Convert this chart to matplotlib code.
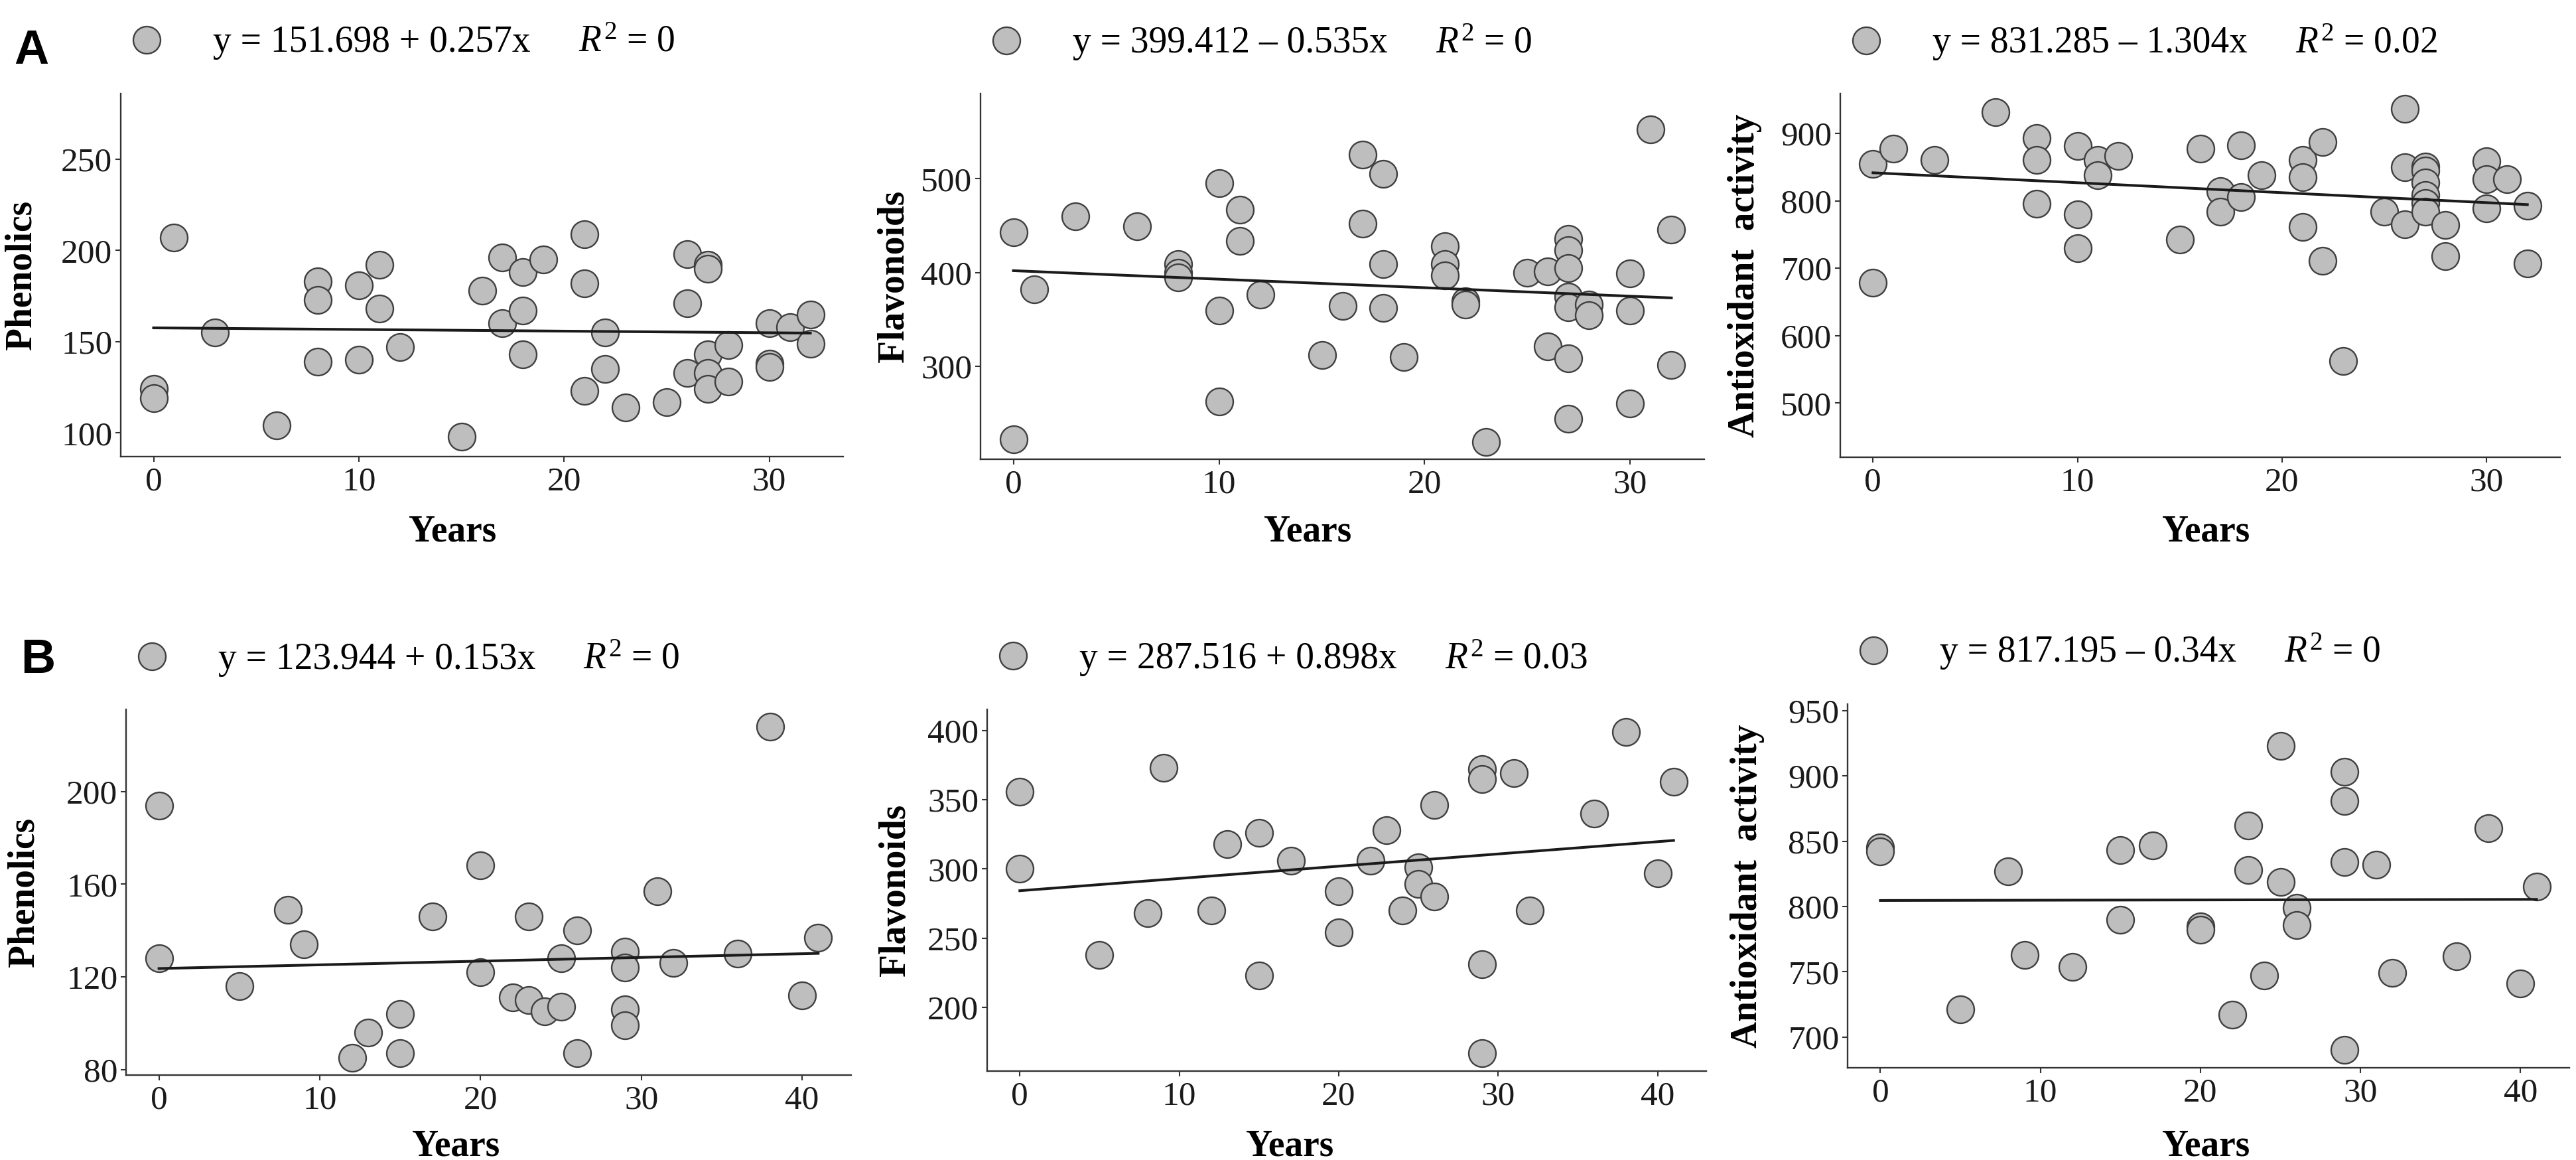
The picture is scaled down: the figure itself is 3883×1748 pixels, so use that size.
import numpy as np
import matplotlib
matplotlib.use("Agg")
import matplotlib.pyplot as plt
from matplotlib.lines import Line2D

W, H = 3883, 1748
DPI = 100

plt.rcParams['font.family'] = ['Liberation Serif', 'DejaVu Serif']
plt.rcParams['mathtext.fontset'] = 'custom'
plt.rcParams['mathtext.rm'] = 'Liberation Serif'
plt.rcParams['mathtext.it'] = 'Liberation Serif:italic'

# ---- data ----
# A: phenolics
years_a_phen = [0, 0, 1, 3, 6, 8, 8, 8, 10, 10, 11, 11, 12, 15, 16, 17, 17, 18, 18, 18,
                19, 21, 21, 21, 22, 22, 23, 25, 26, 26, 26, 27, 27, 27, 27, 27, 28, 28,
                30, 30, 30, 31, 32, 32]
phen_a = [124, 119, 207, 155, 104, 183, 173, 139, 181, 140, 192, 168, 147, 98, 178, 196, 160,
          188, 167, 143, 195, 209, 182, 123, 155, 135, 114, 117, 198, 171, 133, 192, 190,
          143, 133, 124, 148, 128, 160, 138, 136, 158, 165, 149]

# A: flavonoids
years_a_flav = [0, 0, 1, 3, 6, 8, 8, 8, 10, 10, 10, 11, 11, 12, 15, 16, 17, 17, 18, 18, 18,
                19, 21, 21, 21, 22, 22, 23, 25, 26, 26, 27, 27, 27, 27, 27, 27, 27, 28, 28,
                30, 30, 30, 31, 32, 32]
flav_a = [443, 222, 382, 460, 449, 409, 400, 395, 495, 359, 262, 467, 434, 376, 312, 364,
          526, 452, 505, 409, 362, 310, 428, 409, 397, 369, 366, 219, 400, 401, 321, 436,
          424, 405, 374, 363, 308, 244, 366, 354, 399, 359, 260, 553, 446, 301]

# A: antioxidant activity
years_a_anti = [0, 0, 1, 3, 6, 8, 8, 8, 10, 10, 10, 11, 11, 12, 15, 16, 17, 17, 18, 18, 19,
                21, 21, 21, 22, 22, 23, 25, 26, 26, 26, 27, 27, 27, 27, 27, 27, 28, 28, 30,
                30, 30, 31, 32, 32]
anti_a = [855, 678, 877, 861, 931, 893, 861, 796, 881, 780, 730, 861, 838, 866, 742, 877,
          814, 784, 882, 805, 838, 861, 835, 761, 887, 711, 562, 784, 936, 850, 765, 851,
          845, 827, 808, 797, 784, 764, 718, 859, 832, 789, 832, 793, 707]

# B: phenolics
years_b_phen = [0, 0, 5, 8, 9, 12, 13, 15, 15, 17, 20, 20, 22, 23, 23, 24, 25, 25, 26, 26,
                29, 29, 29, 29, 31, 32, 36, 38, 40, 41]
phen_b = [194, 128, 116, 149, 134, 85, 96, 104, 87, 146, 168, 122, 111, 146, 110, 105, 128,
          107, 140, 87, 131, 124, 106, 99, 157, 126, 130, 228, 112, 137]

# B: flavonoids
years_b_flav = [0, 0, 5, 8, 9, 12, 13, 15, 15, 17, 20, 20, 22, 23, 24, 25, 25, 26, 26, 29,
                29, 29, 29, 31, 32, 36, 38, 40, 41]
flav_b = [356, 300, 238, 268, 373, 270, 318, 326, 223, 306, 284, 254, 306, 328, 270, 301,
          289, 346, 280, 372, 365, 231, 167, 369, 270, 340, 399, 297, 363]

# B: antioxidant activity
years_b_anti = [0, 0, 5, 8, 9, 12, 15, 15, 17, 20, 20, 22, 23, 23, 24, 25, 25, 26, 26, 29,
                29, 29, 29, 31, 32, 36, 38, 40, 41]
anti_b = [845, 842, 721, 827, 763, 754, 843, 790, 847, 785, 782, 717, 862, 828, 747, 923,
          819, 799, 786, 903, 881, 834, 690, 832, 749, 762, 860, 741, 815]

equations = ["y = 151.698 + 0.257x", "y = 399.412 \u2013 0.535x", "y = 831.285 \u2013 1.304x",
             "y = 123.944 + 0.153x", "y = 287.516 + 0.898x", "y = 817.195 \u2013 0.34x"]
r2_labels = [r"$R^2$ = 0", r"$R^2$ = 0", r"$R^2$ = 0.02",
             r"$R^2$ = 0", r"$R^2$ = 0.03", r"$R^2$ = 0"]
y_titles = ["Phenolics", "Flavonoids", "Antioxidant  activity"] * 2

fill_col = "#bebebe"
edge_col = "#404040"
axis_col = "#333333"

panels = [
    # x, y, ylim, yticks, xticks, axes box (l, t, r, b px), legend y, baseline, ylabel x, years x
    (years_a_phen, phen_a, (87, 286), [100, 150, 200, 250], [0, 10, 20, 30],
     (182, 141, 1271, 688), 60, 78, 33, 682),
    (years_a_flav, flav_a, (200.6, 591), [300, 400, 500], [0, 10, 20, 30],
     (1478, 141, 2569, 692), 61, 79, 1348, 1971),
    (years_a_anti, anti_a, (419.6, 959), [500, 600, 700, 800, 900], [0, 10, 20, 30],
     (2774, 141, 3859, 689), 61, 79, 2630, 3325),
    (years_b_phen, phen_b, (77.6, 235.4), [80, 120, 160, 200], [0, 10, 20, 30, 40],
     (190, 1069, 1283, 1620), 989, 1008, 37, 687),
    (years_b_flav, flav_b, (154, 415.2), [200, 250, 300, 350, 400], [0, 10, 20, 30, 40],
     (1488, 1069, 2572, 1614), 988, 1007, 1350, 1944),
    (years_b_anti, anti_b, (676.5, 955), [700, 750, 800, 850, 900, 950], [0, 10, 20, 30, 40],
     (2785, 1061, 3873, 1609), 980, 997, 2634, 3325),
]


def fx(px):
    return px / W


def fy(py):
    return 1 - py / H


fig = plt.figure(figsize=(W / DPI, H / DPI), dpi=DPI)
renderer = fig.canvas.get_renderer()

for i, (xs, ys, ylim, yticks, xticks, bx, ly, base, ylx, yrx) in enumerate(panels):
    l, t, r, b = bx
    ax = fig.add_axes([fx(l), fy(b), fx(r) - fx(l), fy(t) - fy(b)])
    xs = np.array(xs, dtype=float)
    ys = np.array(ys, dtype=float)

    # linear fit (as geom_smooth lm)
    k, c = np.polyfit(xs, ys, 1)
    xl = np.array([xs.min(), xs.max()])
    ax.scatter(xs, ys, s=870, facecolor=fill_col, edgecolor=edge_col, linewidth=1.7, zorder=3)
    ax.plot(xl, c + k * xl, color="#1a1a1a", lw=2.9, zorder=4)

    pad = 0.05 * (xs.max() - xs.min())
    ax.set_xlim(xs.min() - pad, xs.max() + pad)
    ax.set_ylim(*ylim)
    ax.set_xticks(xticks)
    ax.set_yticks(yticks)
    for s in ["top", "right"]:
        ax.spines[s].set_visible(False)
    for s in ["left", "bottom"]:
        ax.spines[s].set_color(axis_col)
        ax.spines[s].set_linewidth(1.7)
    ax.tick_params(axis="both", length=6, width=1.5, color=axis_col, labelsize=37,
                   labelcolor="#1a1a1a")
    ax.tick_params(axis="x", pad=5)
    ax.tick_params(axis="y", pad=3)

    # axis titles
    fig.text(fx(ylx), fy((t + b) / 2), y_titles[i], rotation=90, ha="center", va="center",
             fontsize=40, fontweight="bold")
    yr_y = 801 if i < 3 else 1727
    fig.text(fx(yrx), fy(yr_y), "Years", ha="center", va="center", fontsize=40,
             fontweight="bold")

    # legend key + equation text
    fig.add_artist(Line2D([fx(l + 39)], [fy(ly)], marker="o", markersize=29.5,
                          markerfacecolor=fill_col, markeredgecolor=edge_col,
                          markeredgewidth=1.7, linestyle="none", transform=fig.transFigure))
    eq = fig.text(fx(l + 139), fy(base), equations[i], ha="left", va="baseline", fontsize=40)
    ext = eq.get_window_extent(renderer=renderer)
    fig.text(fx(ext.x1 + 72), fy(base), r2_labels[i], ha="left", va="baseline", fontsize=40)

fig.text(fx(21), fy(96), "A", ha="left", va="baseline", fontsize=52, fontweight="bold",
         family=["Liberation Sans", "DejaVu Sans"])
fig.text(fx(31), fy(1014), "B", ha="left", va="baseline", fontsize=52, fontweight="bold",
         family=["Liberation Sans", "DejaVu Sans"])

fig.savefig("out.png", dpi=DPI)
